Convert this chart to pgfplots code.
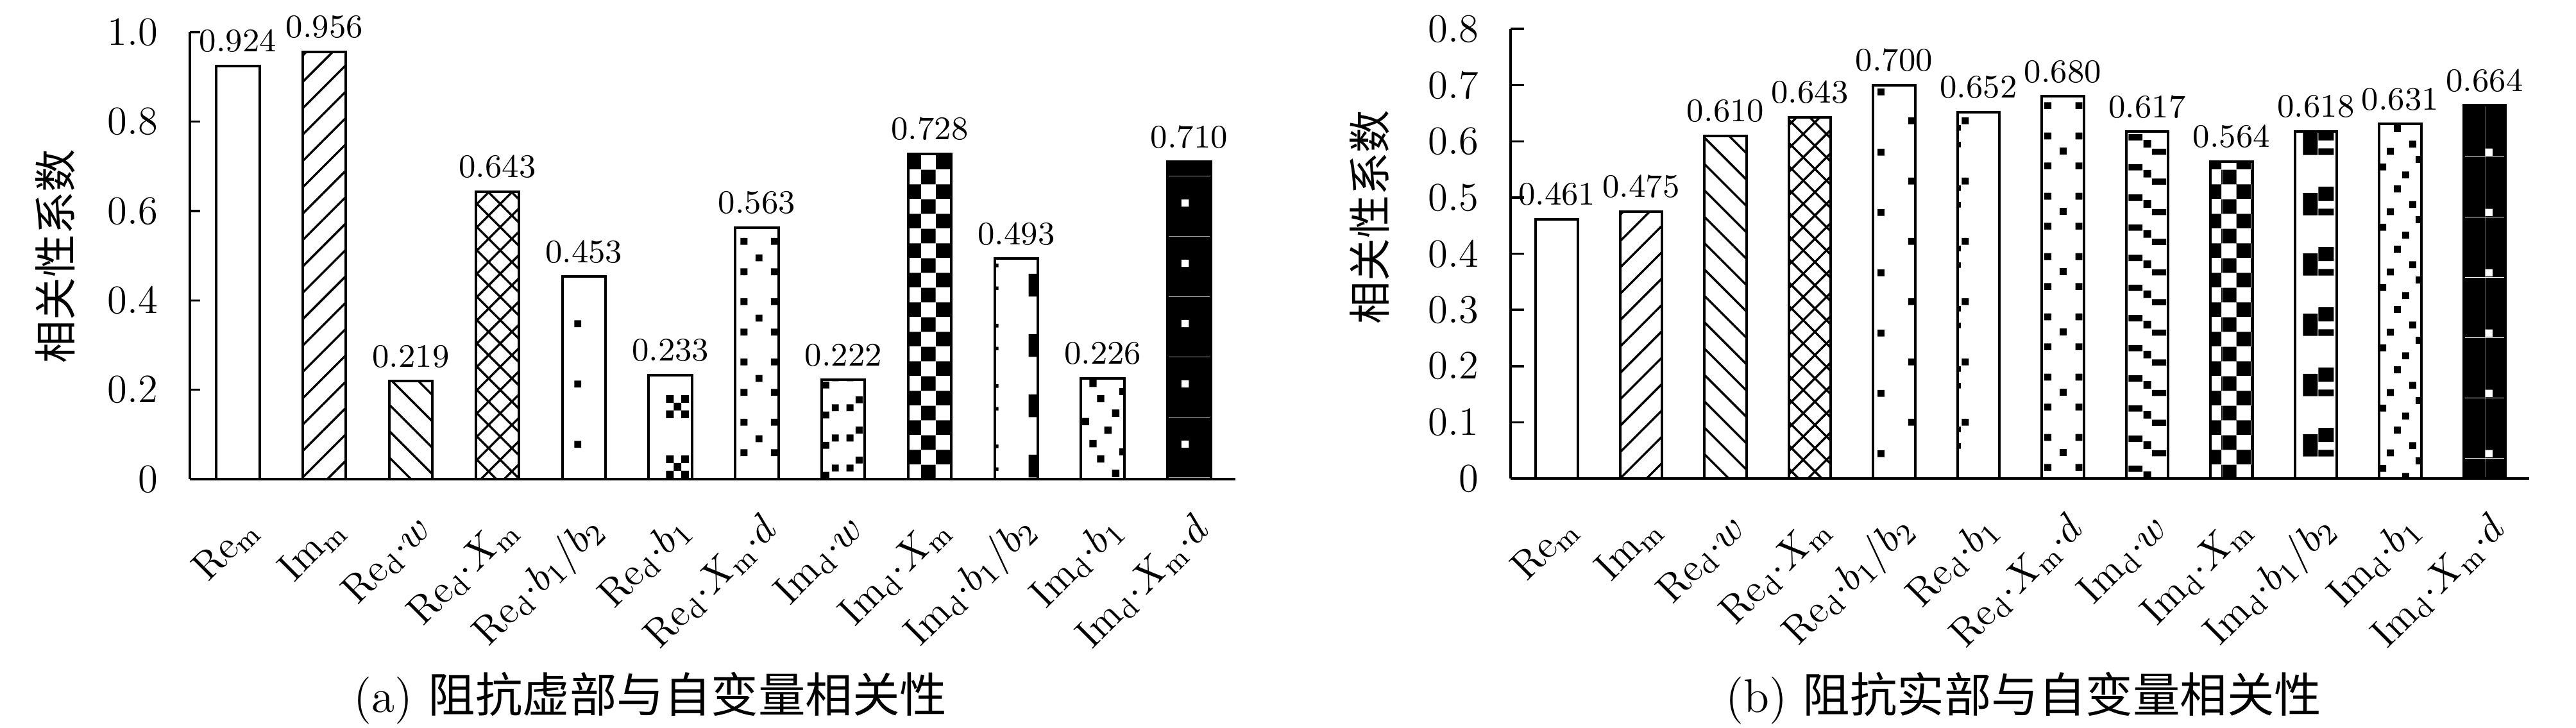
\documentclass[border=0pt]{standalone}
\usepackage{fontspec}
\usepackage{pgfplots}
\pgfplotsset{compat=1.18}
\usetikzlibrary{patterns,patterns.meta}
\newfontfamily\cjk{Noto Sans CJK SC}

\newcommand\csq[3]{\pgfpathrectangle{\pgfpoint{#1pt-#3pt/2}{#2pt-#3pt/2}}{\pgfpoint{#3pt}{#3pt}}}
\newcommand\rct[4]{\pgfpathrectangle{\pgfpoint{#1pt}{#2pt}}{\pgfpoint{#3pt}{#4pt}}}

% ---- left panel patterns (tile width = bar pitch 23.653pt)
\pgfdeclarepatternformonly{Lsp}{\pgfpointorigin}{\pgfpoint{23.653pt}{16.5pt}}{\pgfpoint{23.653pt}{16.5pt}}{\csq{16.27}{11.55}{1.9}\pgfusepath{fill}}
\pgfdeclarepatternformonly{Lx}{\pgfpointorigin}{\pgfpoint{23.653pt}{16.5pt}}{\pgfpoint{23.653pt}{16.5pt}}{\csq{17.77}{7.4}{2.1}\csq{21.97}{7.4}{2.1}\csq{19.87}{5.3}{2.1}\csq{17.77}{3.2}{2.1}\csq{21.97}{3.2}{2.1}\pgfusepath{fill}}
\pgfdeclarepatternformonly{Lgrid}{\pgfpointorigin}{\pgfpoint{23.653pt}{16.5pt}}{\pgfpoint{23.653pt}{16.5pt}}{\csq{14.37}{1.0}{1.9}\csq{22.67}{1.0}{1.9}\csq{14.37}{9.25}{1.9}\csq{22.67}{9.25}{1.9}\csq{18.47}{13.1}{1.9}\pgfusepath{fill}}
\pgfdeclarepatternformonly{Lstair}{\pgfpointorigin}{\pgfpoint{23.653pt}{16.5pt}}{\pgfpoint{23.653pt}{16.5pt}}{\csq{22.17}{7.2}{1.9}\csq{15.67}{5.0}{1.9}\csq{19.67}{5.0}{1.9}\csq{13.07}{3.0}{1.9}\csq{22.17}{15.45}{1.9}\csq{15.67}{13.25}{1.9}\csq{19.67}{13.25}{1.9}\csq{13.07}{11.25}{1.9}\pgfusepath{fill}}
\pgfdeclarepatternformonly{Lchk}{\pgfpointorigin}{\pgfpoint{8pt}{8pt}}{\pgfpoint{8pt}{8pt}}{\rct{0}{0}{4}{4}\rct{4}{4}{4}{4}\pgfusepath{fill}}
\pgfdeclarepatternformonly{Ldash}{\pgfpointorigin}{\pgfpoint{23.653pt}{16.5pt}}{\pgfpoint{23.653pt}{16.5pt}}{\rct{21.17}{2.4}{2.5}{6.3}\rct{11.9}{4.2}{1}{1}\rct{11.9}{10.5}{1}{1}\pgfusepath{fill}}
\pgfdeclarepatternformonly{Lscat}{\pgfpointorigin}{\pgfpoint{23.653pt}{16.5pt}}{\pgfpoint{23.653pt}{16.5pt}}{\csq{15.27}{11.7}{2}\csq{17.37}{7.5}{2}\csq{21.47}{3.5}{2}\csq{13.17}{1.2}{2}\csq{19.37}{15.4}{2}\rct{22.45}{8.5}{1.2}{1.9}\pgfusepath{fill}}
\pgfdeclarepatternformonly{Lwhite}{\pgfpointorigin}{\pgfpoint{23.653pt}{16.5pt}}{\pgfpoint{23.653pt}{16.5pt}}{\csq{16.77}{11.6}{2}\rct{0}{2.35}{23.653}{0.1}\pgfusepath{fill}}

% ---- right panel patterns (tile width = bar pitch 23.067pt)
\pgfdeclarepatternformonly{Rsp}{\pgfpointorigin}{\pgfpoint{23.067pt}{16.5pt}}{\pgfpoint{23.067pt}{16.5pt}}{\csq{7.1}{9.0}{1.9}\csq{15.5}{1.0}{1.9}\pgfusepath{fill}}
\pgfdeclarepatternformonly{Redge}{\pgfpointorigin}{\pgfpoint{23.067pt}{16.5pt}}{\pgfpoint{23.067pt}{16.5pt}}{\csq{7.0}{1.0}{1.9}\rct{4.85}{14.95}{0.9}{1.5}\rct{4.85}{10.35}{0.9}{1.5}\pgfusepath{fill}}
\pgfdeclarepatternformonly{Rgrid}{\pgfpointorigin}{\pgfpoint{23.067pt}{16.5pt}}{\pgfpoint{23.067pt}{16.5pt}}{\csq{6.6}{5.2}{1.9}\csq{15.1}{5.2}{1.9}\csq{6.6}{13.45}{1.9}\csq{15.1}{13.45}{1.9}\csq{10.8}{9.3}{1.9}\pgfusepath{fill}}
\pgfdeclarepatternformonly{Rstair}{\pgfpointorigin}{\pgfpoint{23.067pt}{16.5pt}}{\pgfpoint{23.067pt}{16.5pt}}{\rct{5.5}{3.95}{3.8}{1.75}\rct{9.6}{2.0}{2.1}{2.1}\rct{11.9}{0}{3.9}{1.7}\rct{5.5}{12.2}{3.8}{1.75}\rct{9.6}{10.25}{2.1}{2.1}\rct{11.9}{8.25}{3.9}{1.7}\pgfusepath{fill}}
\pgfdeclarepatternformonly{Rchk}{\pgfpointorigin}{\pgfpoint{8pt}{8pt}}{\pgfpoint{8pt}{8pt}}{\rct{3.63}{0}{4}{4}\rct{7.63}{4}{0.37}{4}\rct{0}{4}{3.63}{4}\pgfusepath{fill}}
\pgfdeclarepatternformonly{RC}{\pgfpointorigin}{\pgfpoint{23.067pt}{16.5pt}}{\pgfpoint{23.067pt}{16.5pt}}{\rct{7.1}{8.2}{4.0}{6.15}\rct{11.3}{12.2}{4.2}{3.9}\rct{11.3}{8.2}{4.2}{1.8}\pgfusepath{fill}}
\pgfdeclarepatternformonly{Rscat}{\pgfpointorigin}{\pgfpoint{23.067pt}{16.5pt}}{\pgfpoint{23.067pt}{16.5pt}}{\csq{9.9}{15.5}{1.9}\csq{14.1}{11.2}{1.9}\csq{8.0}{9.2}{1.9}\csq{12.2}{2.7}{1.9}\csq{5.9}{4.9}{1.9}\rct{14.95}{6.05}{1.42}{1.9}\pgfusepath{fill}}
\pgfdeclarepatternformonly{Rwhite}{\pgfpointorigin}{\pgfpoint{23.067pt}{16.5pt}}{\pgfpoint{23.067pt}{16.5pt}}{\csq{11.8}{9.0}{2}\rct{0}{7.65}{23.067}{0.1}\rct{10.75}{0}{0.08}{16.5}\pgfusepath{fill}}

\pgfplotsset{
  mybar/.style={ybar, bar width=0.5, bar shift=0pt, draw=black, line width=0.7pt, fill=white,
    point meta=explicit symbolic, nodes near coords},
  hatchNE/.style={pattern={Lines[angle=45,distance=5.1pt,line width=0.6pt]}},
  hatchNW/.style={pattern={Lines[angle=-45,distance=5.1pt,line width=0.6pt]}},
  hatchX/.style={pattern={Hatch[angle=45,distance=4.5pt,line width=0.6pt]}},
  panel/.style={
    anchor=south west, scale only axis,
    xmin=-0.556, xmax=11.534, ymin=0,
    axis x line*=bottom, axis y line*=left,
    x axis line style={line width=0.8pt,-},
    y axis line style={line width=0.6pt,-},
    tick align=inside,
    ytick style={line width=0.6pt,black},
    xtick style={draw=none},
    xtick={0,...,11},
    xticklabels={
      {$\mathrm{Re}_\mathrm{m}$},{$\mathrm{Im}_\mathrm{m}$},{$\mathrm{Re}_\mathrm{d}{\cdot}w$},
      {$\mathrm{Re}_\mathrm{d}{\cdot}X_\mathrm{m}$},{$\mathrm{Re}_\mathrm{d}{\cdot}b_1/b_2$},
      {$\mathrm{Re}_\mathrm{d}{\cdot}b_1$},{$\mathrm{Re}_\mathrm{d}{\cdot}X_\mathrm{m}{\cdot}d$},
      {$\mathrm{Im}_\mathrm{d}{\cdot}w$},{$\mathrm{Im}_\mathrm{d}{\cdot}X_\mathrm{m}$},
      {$\mathrm{Im}_\mathrm{d}{\cdot}b_1/b_2$},{$\mathrm{Im}_\mathrm{d}{\cdot}b_1$},
      {$\mathrm{Im}_\mathrm{d}{\cdot}X_\mathrm{m}{\cdot}d$}},
    tick label style={font=\fontsize{11}{13}\selectfont},
    yticklabel style={inner sep=0pt, xshift=-8.6pt},
    xticklabel style={inner sep=0pt, xshift=4pt, yshift=-12pt, rotate=45, anchor=east},
    nodes near coords style={font=\fontsize{9}{11}\selectfont, text=black},
    clip=false,
  },
}

\begin{document}
\begin{tikzpicture}
\path[use as bounding box] (0,0) rectangle (704.56pt,198.95pt);

% ---------------- (a)
\begin{axis}[panel, at={(51.93pt,67.89pt)}, width=285.96pt, height=122.28pt,
  ymax=1, ytick={0,0.2,0.4,0.6,0.8,1.0}, yticklabels={0,0.2,0.4,0.6,0.8,1.0},
  major tick length=2.8pt]
\addplot[mybar] coordinates {(0,0.924) [0.924]};
\addplot[mybar, hatchNE] coordinates {(1,0.956) [0.956]};
\addplot[mybar, hatchNW] coordinates {(2,0.219) [0.219]};
\addplot[mybar, hatchX] coordinates {(3,0.643) [0.643]};
\addplot[mybar, pattern=Lsp] coordinates {(4,0.453) [0.453]};
\addplot[mybar, pattern=Lx] coordinates {(5,0.233) [0.233]};
\addplot[mybar, pattern=Lgrid] coordinates {(6,0.563) [0.563]};
\addplot[mybar, pattern=Lstair] coordinates {(7,0.222) [0.222]};
\addplot[mybar, pattern=Lchk] coordinates {(8,0.728) [0.728]};
\addplot[mybar, pattern=Ldash] coordinates {(9,0.493) [0.493]};
\addplot[mybar, pattern=Lscat] coordinates {(10,0.226) [0.226]};
\addplot[mybar, fill=black, postaction={pattern=Lwhite, pattern color=white}] coordinates {(11,0.710) [0.710]};
\end{axis}

% ---------------- (b)
\begin{axis}[panel, at={(413.16pt,68.07pt)}, width=278.6pt, height=122.98pt,
  xmin=-0.548, xmax=11.53,
  ymax=0.8, ytick={0,0.1,0.2,0.3,0.4,0.5,0.6,0.7,0.8}, yticklabels={0,0.1,0.2,0.3,0.4,0.5,0.6,0.7,0.8},
  major tick length=3.6pt]
\addplot[mybar] coordinates {(0,0.461) [0.461]};
\addplot[mybar, hatchNE] coordinates {(1,0.475) [0.475]};
\addplot[mybar, hatchNW] coordinates {(2,0.610) [0.610]};
\addplot[mybar, hatchX] coordinates {(3,0.643) [0.643]};
\addplot[mybar, pattern=Rsp] coordinates {(4,0.700) [0.700]};
\addplot[mybar, pattern=Redge] coordinates {(5,0.652) [0.652]};
\addplot[mybar, pattern=Rgrid] coordinates {(6,0.680) [0.680]};
\addplot[mybar, pattern=Rstair] coordinates {(7,0.617) [0.617]};
\addplot[mybar, pattern=Rchk] coordinates {(8,0.564) [0.564]};
\addplot[mybar, pattern=RC] coordinates {(9,0.618) [0.618]};
\addplot[mybar, pattern=Rscat] coordinates {(10,0.631) [0.631]};
\addplot[mybar, fill=black, postaction={pattern=Rwhite, pattern color=white}] coordinates {(11,0.664) [0.664]};
\end{axis}

% y labels
\node[rotate=90, font=\cjk\fontsize{11.7}{14}\selectfont] at (15.1pt,128.9pt) {相关性系数};
\node[rotate=90, font=\cjk\fontsize{11.7}{14}\selectfont] at (374.6pt,139.6pt) {相关性系数};
% captions
\node[anchor=base, font=\fontsize{12.9}{15}\selectfont] at (177.9pt,4.2pt) {(a) {\cjk 阻抗虚部与自变量相关性}};
\node[anchor=base, font=\fontsize{12.9}{15}\selectfont] at (553.5pt,4.2pt) {(b) {\cjk 阻抗实部与自变量相关性}};
\end{tikzpicture}
\end{document}
